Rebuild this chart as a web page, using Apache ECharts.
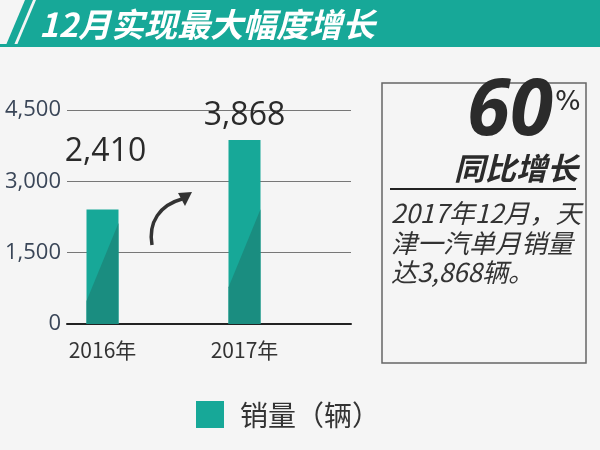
<!DOCTYPE html>
<html><head><meta charset="utf-8">
<script src="https://cdn.jsdelivr.net/npm/echarts@6/dist/echarts.min.js"></script>
<style>html,body{margin:0;padding:0;background:#f5f5f5}#c{width:600px;height:450px}</style>
</head><body><div id="c"></div>
<script>
const categories = ['2016年', '', '2017年', ''];
const sales = [2410, null, 3868, null];
const salesLabels = ['2,410', '', '3,868', ''];
const yTicks = [0, 1500, 3000, 4500];
const title = '12月实现最大幅度增长';
const seriesName = '销量（辆）';

const LIGHT = '#17a898', DARK = '#1a8d80', TXT = '#333';
const chart = echarts.init(document.getElementById('c'));
const barData = sales.map((v, i) => v == null ? null : [i, v]).filter(Boolean);

chart.setOption({
  backgroundColor: '#f5f5f5',
  animation: false,
  grid: { left: 67, right: 249, top: 110, bottom: 126 },
  xAxis: {
    type: 'category', data: categories,
    axisLine: { lineStyle: { color: '#222', width: 2 } },
    axisTick: { show: false },
    axisLabel: { color: TXT, fontSize: 21, fontFamily: 'Noto Sans CJK SC', margin: 16 }
  },
  yAxis: {
    type: 'value', min: 0, max: 4500, interval: 1500,
    axisLine: { show: false }, axisTick: { show: false },
    splitLine: { lineStyle: { color: '#777', width: 1 } },
    axisLabel: { color: '#3a4658', fontSize: 22, fontFamily: 'Open Sans', margin: 6,
      formatter: v => yTicks.includes(v) ? v.toLocaleString('en-US') : '' }
  },
  legend: { show: false },
  series: [{
    type: 'custom', name: seriesName,
    data: barData,
    renderItem: function (params, api) {
      const i = api.value(0), v = api.value(1);
      const top = api.coord([i, v]), base = api.coord([i, 0]);
      const w = 32;
      const x0 = top[0] - w / 2, h = base[1] - top[1];
      const leftH = h * 0.2, rightH = Math.min(leftH + 78, h);
      const lbl = salesLabels[i];
      const dy = i === 0 ? 42 : 8;
      return { type: 'group', children: [
        { type: 'rect', shape: { x: x0, y: top[1], width: w, height: h }, style: { fill: LIGHT } },
        { type: 'polygon', shape: { points: [[x0, base[1]], [x0 + w, base[1]], [x0 + w, base[1] - rightH], [x0, base[1] - leftH]] }, style: { fill: DARK } },
        { type: 'text', style: { text: lbl, x: top[0] + (i === 0 ? 3 : 0), y: top[1] - dy, align: 'center', verticalAlign: 'bottom',
          fill: '#2a2a2a', font: '32px "Open Sans"' } }
      ] };
    }
  }],
  graphic: [
    { type: 'rect', shape: { x: 0, y: 44, width: 600, height: 3 }, style: { fill: LIGHT } },
    { type: 'polygon', shape: { points: [[36, 0], [600, 0], [600, 45], [17, 45]] }, style: { fill: LIGHT } },
    { type: 'polygon', shape: { points: [[25, 0], [33, 0], [14, 45], [6, 45]] }, style: { fill: LIGHT } },
    { type: 'text', style: { text: title, x: 39, y: 24, verticalAlign: 'middle', fill: '#fff',
      font: 'italic bold 33px "Noto Sans CJK SC"' } },
    { type: 'bezierCurve', shape: { x1: 152, y1: 245, cpx1: 148, cpy1: 222, cpx2: 160, cpy2: 205, x2: 182, y2: 199 },
      style: { stroke: '#333', lineWidth: 3.5, fill: null } },
    { type: 'polygon', shape: { points: [[192, 192], [178, 193], [185, 206]] }, style: { fill: '#333' } },
    { type: 'rect', shape: { x: 382, y: 83, width: 204, height: 280 }, style: { fill: null, stroke: '#666', lineWidth: 1.5 } },
    { type: 'text', style: { text: '60', x: 553, y: 152, align: 'right', verticalAlign: 'bottom', fill: '#2b2b2b',
      font: 'italic bold 78px "Open Sans"' } },
    { type: 'text', style: { text: '%', x: 555, y: 103, verticalAlign: 'middle', fill: '#2b2b2b', font: '27px "DejaVu Sans"' } },
    { type: 'text', style: { text: '同比增长', x: 578, y: 168, align: 'right', verticalAlign: 'middle', fill: '#2b2b2b',
      font: 'italic bold 31px "Noto Sans CJK SC"' } },
    { type: 'rect', shape: { x: 390, y: 188, width: 186, height: 2 }, style: { fill: '#222' } },
    { type: 'text', style: { text: '2017年12月，天', x: 391, y: 213, verticalAlign: 'middle', fill: '#333', font: 'italic 26px "Noto Sans CJK SC"' } },
    { type: 'text', style: { text: '津一汽单月销量', x: 391, y: 243, verticalAlign: 'middle', fill: '#333', font: 'italic 26px "Noto Sans CJK SC"' } },
    { type: 'text', style: { text: '达3,868辆。', x: 391, y: 272, verticalAlign: 'middle', fill: '#333', font: 'italic 26px "Noto Sans CJK SC"' } },
    { type: 'rect', shape: { x: 196, y: 401, width: 28, height: 27 }, style: { fill: LIGHT } },
    { type: 'text', style: { text: seriesName, x: 240, y: 415, verticalAlign: 'middle', fill: '#333', font: '28px "Noto Sans CJK SC"' } }
  ]
});
</script></body></html>
